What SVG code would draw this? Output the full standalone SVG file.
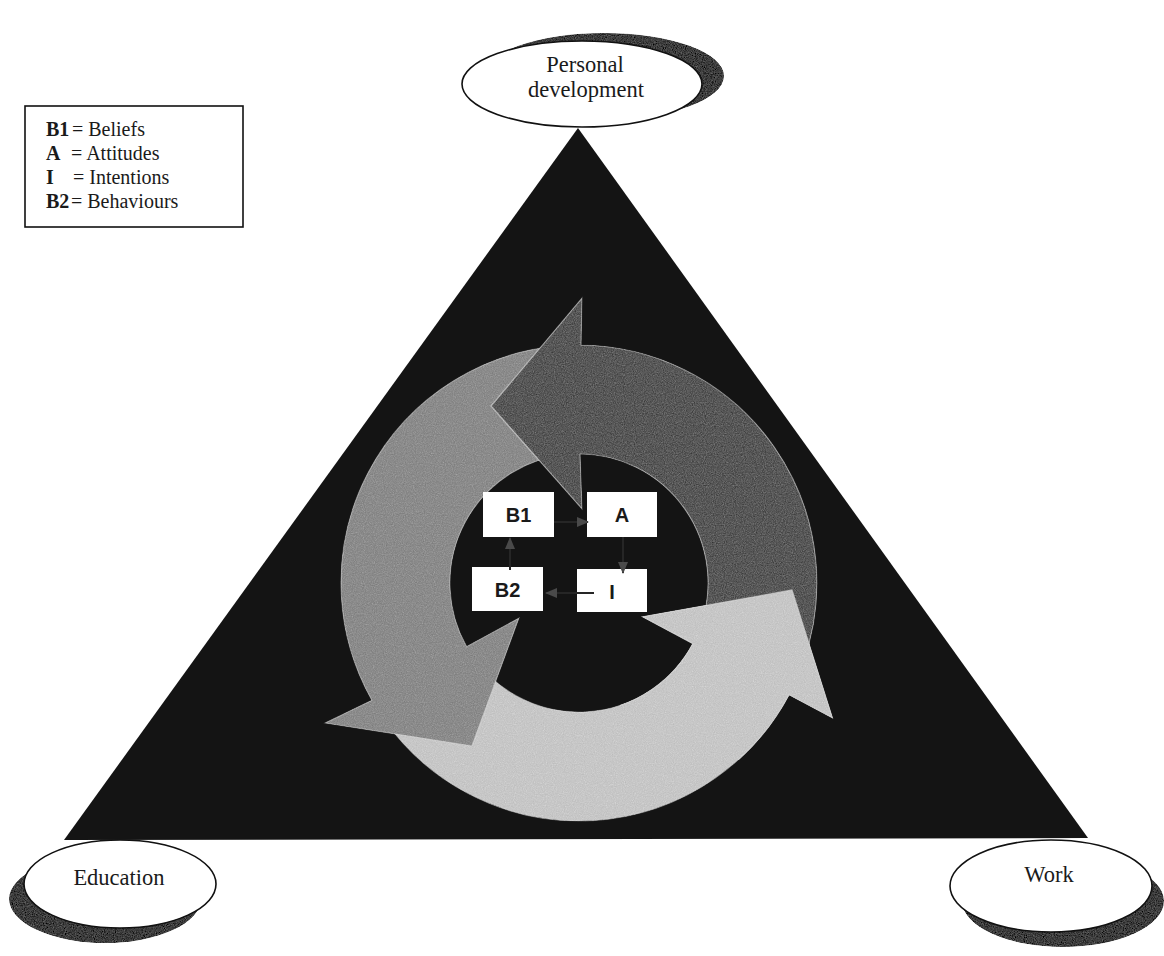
<svg xmlns="http://www.w3.org/2000/svg" width="1164" height="956" viewBox="0 0 1164 956">
  <style>
    .serif { font-family: "Liberation Serif", "Times New Roman", serif; fill: #1a1a1a; }
    .legend { font-size: 20px; }
    .oval-text { font-size: 22.5px; text-anchor: middle; }
    .oval { fill: #ffffff; stroke: #111111; stroke-width: 1.6; }
    .oval-shadow { fill: #3a3a3a; }
    .box { fill: #ffffff; }
    .box-text { font-family: "Liberation Sans", Arial, sans-serif; font-weight: bold; font-size: 20px; text-anchor: middle; fill: #1a1a1a; }
    .link { stroke: #262626; stroke-width: 2; fill: none; }
    .ring { stroke: #d4d4d4; stroke-width: 1.2; stroke-opacity: 0.7; }
  </style>
  <defs>
    <marker id="tip" viewBox="0 0 12 10" refX="11" refY="5" markerWidth="12" markerHeight="10" markerUnits="userSpaceOnUse" orient="auto">
      <path d="M0,0 L12,5 L0,10 Z" fill="#4a4a4a"/>
    </marker>
    <filter id="grain" x="-5%" y="-5%" width="110%" height="110%">
      <feTurbulence type="fractalNoise" baseFrequency="0.9" numOctaves="2" seed="4" result="t"/>
      <feColorMatrix in="t" type="saturate" values="0" result="g"/>
      <feComposite in="g" in2="SourceGraphic" operator="arithmetic" k1="0" k2="0.3" k3="1" k4="-0.07" result="c"/>
      <feComposite in="c" in2="SourceGraphic" operator="in"/>
    </filter>
    <!-- light arrow, reused so its head can sit over the dark arrow's tail -->
    <path id="light-arrow" d="M384.0,719.5 A238,238 0 0 0 789.1,694.7 L832.4,717.7 L792,590 L642.6,616.8 L692.9,643.6 A129,129 0 0 1 473.3,657.0 Z"/>
    <clipPath id="light-head-clip">
      <rect x="620" y="560" width="240" height="200"/>
    </clipPath>
  </defs>

  <rect width="1164" height="956" fill="#ffffff"/>

  <!-- base triangle -->
  <g id="triangle">
    <polygon points="578,128 64,840 1088,838" fill="#141414"/>
  </g>

  <!-- cycle of three curved arrows -->
  <g id="cycle" filter="url(#grain)">
    <use href="#light-arrow" class="ring" fill="#c6c6c6"/>
    <path class="ring" fill="#8a8a8a" d="M558.3,345.9 A238,238 0 0 0 371.8,700.2 L325,723 L472,746 L519,618 L466.7,646.5 A129,129 0 0 1 567.8,454.5 Z"/>
    <path class="ring" fill="#565656" d="M802.6,664.4 A238,238 0 0 0 581.1,345.0 L582,298 L491,406 L582,509 L580.1,454.0 A129,129 0 0 1 700.2,627.1 Z"/>
    <use href="#light-arrow" class="ring" fill="#c6c6c6" clip-path="url(#light-head-clip)"/>
  </g>

  <!-- legend -->
  <g id="legend">
    <rect x="25" y="106" width="218" height="121" fill="#ffffff" stroke="#111111" stroke-width="1.6"/>
    <text class="serif legend" x="46" y="136"><tspan font-weight="bold">B1</tspan><tspan x="72">= Beliefs</tspan></text>
    <text class="serif legend" x="46" y="160"><tspan font-weight="bold">A</tspan><tspan x="71">= Attitudes</tspan></text>
    <text class="serif legend" x="46" y="184"><tspan font-weight="bold">I</tspan><tspan x="73">= Intentions</tspan></text>
    <text class="serif legend" x="46" y="208"><tspan font-weight="bold">B2</tspan><tspan x="71">= Behaviours</tspan></text>
  </g>

  <!-- outer nodes -->
  <g id="node-personal-development">
    <ellipse class="oval-shadow" cx="604" cy="76" rx="120" ry="43" filter="url(#grain)"/>
    <ellipse class="oval" cx="582" cy="84" rx="120" ry="43"/>
    <text class="serif oval-text" x="585" y="72">Personal</text>
    <text class="serif oval-text" x="586" y="97">development</text>
  </g>
  <g id="node-education">
    <ellipse class="oval-shadow" cx="105" cy="899" rx="96" ry="44" filter="url(#grain)"/>
    <ellipse class="oval" cx="120" cy="884" rx="96" ry="44"/>
    <text class="serif oval-text" x="119" y="885">Education</text>
  </g>
  <g id="node-work">
    <ellipse class="oval-shadow" cx="1063" cy="901" rx="101" ry="46" filter="url(#grain)"/>
    <ellipse class="oval" cx="1051" cy="886" rx="101" ry="46"/>
    <text class="serif oval-text" x="1049" y="882">Work</text>
  </g>

  <!-- inner nodes -->
  <g id="node-b1">
    <rect class="box" x="483" y="492" width="71" height="45"/>
    <text class="box-text" x="518.5" y="522">B1</text>
  </g>
  <g id="node-a">
    <rect class="box" x="587" y="492" width="70" height="45"/>
    <text class="box-text" x="622" y="522">A</text>
  </g>
  <g id="node-b2">
    <rect class="box" x="472" y="567" width="71" height="44"/>
    <text class="box-text" x="507.5" y="597">B2</text>
  </g>
  <g id="node-i">
    <rect class="box" x="577" y="569" width="70" height="43"/>
    <text class="box-text" x="612" y="599">I</text>
  </g>

  <!-- connectors between inner nodes -->
  <g id="connectors">
    <line class="link" x1="554" y1="522" x2="588" y2="522" marker-end="url(#tip)"/>
    <line class="link" x1="623" y1="537" x2="623" y2="573" marker-end="url(#tip)"/>
    <line class="link" x1="594" y1="593" x2="546" y2="593" marker-end="url(#tip)"/>
    <line class="link" x1="510" y1="570" x2="510" y2="538" marker-end="url(#tip)"/>
  </g>
</svg>
